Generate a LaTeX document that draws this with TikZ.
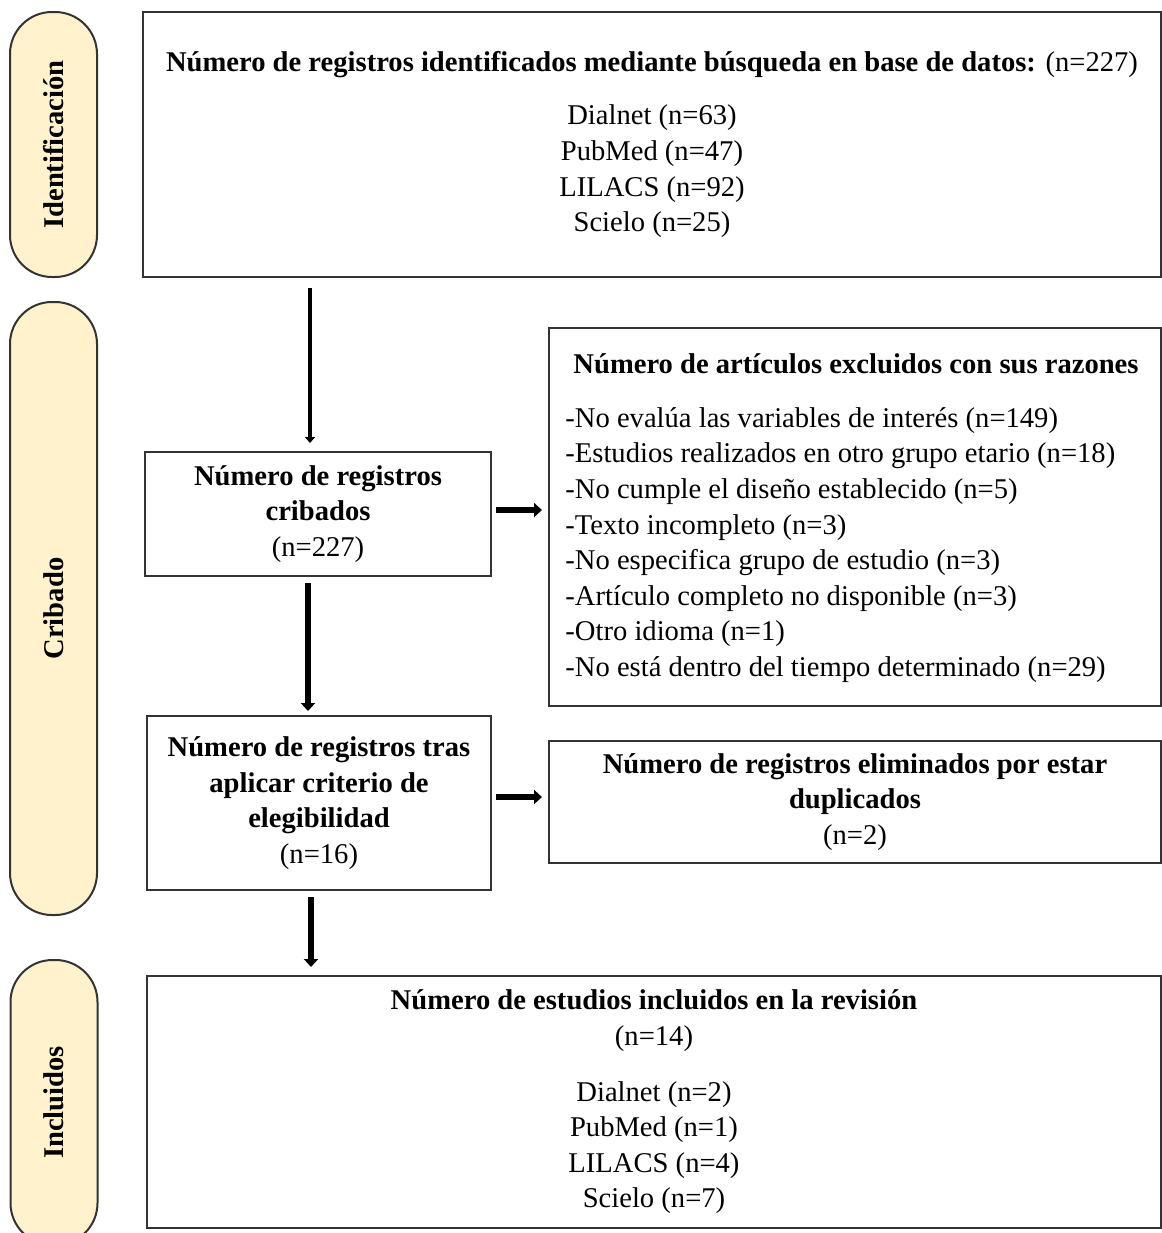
\documentclass[tikz,border=0pt]{standalone}
\usepackage{fontspec}
\setmainfont{Liberation Serif}
\usepackage{tikz}
\usetikzlibrary{positioning,calc,arrows.meta}
\definecolor{pillfill}{HTML}{FFF2CC}
\definecolor{edge}{HTML}{333333}

\begin{document}
\begin{tikzpicture}[x=0.5pt, y=-0.5pt,
    every node/.style={font=\fontsize{14.3}{17.8}\selectfont},
    box/.style={draw=edge, line width=1pt, rectangle, align=center, inner sep=0pt},
    pill/.style={draw=edge, line width=1pt, fill=pillfill, rounded corners=21pt, rotate=90,
        minimum height=43.5pt, inner sep=0pt, font=\fontsize{14.3}{17.8}\selectfont\bfseries},
    thinarrow/.style={-{Triangle[length=3pt,width=5pt]}, line width=2.2pt},
    thickarrow/.style={-{Triangle[length=4pt,width=7pt]}, line width=3.2pt}]
    \clip (0,0) rectangle (1162,1233);

    % phases
    \node[pill, minimum width=132.5pt] (phase1) at (53.5,144.5) {Identificación};
    \node[pill, minimum width=306.5pt] (phase2) at (53.5,608.5) {Cribado};
    \node[pill, minimum width=142.5pt] (phase3) at (54,1102.5) {Incluidos};

    % boxes
    \node[box, minimum width=509pt, minimum height=132.5pt] (ident) at (652,144.5)
        {\textbf{Número de registros identificados mediante búsqueda en base de datos:} (n=227)\\[9pt]
         Dialnet (n=63)\\ PubMed (n=47)\\ LILACS (n=92)\\ Scielo (n=25)};
    \node[box, minimum width=173pt, minimum height=62pt] (cribados) at (318,514)
        {\textbf{Número de registros}\\ \textbf{cribados}\\ (n=227)};
    \node[box, minimum width=306pt, minimum height=189pt] (excl) at (855,517) {};
    \node (excltitle) at (856,364) {\textbf{Número de artículos excluidos con sus razones}};
    \node[align=left, inner sep=0pt, anchor=west] (excllist) at (565,545)
        {-No evalúa las variables de interés (n=149)\\
         -Estudios realizados en otro grupo etario (n=18)\\
         -No cumple el diseño establecido (n=5)\\
         -Texto incompleto (n=3)\\
         -No especifica grupo de estudio (n=3)\\
         -Artículo completo no disponible (n=3)\\
         -Otro idioma (n=1)\\
         -No está dentro del tiempo determinado (n=29)};
    \node[box, minimum width=172pt, minimum height=87pt] (elegib) at (319,803)
        {\textbf{Número de registros tras}\\ \textbf{aplicar criterio de}\\ \textbf{elegibilidad}\\ (n=16)};
    \node[box, minimum width=306pt, minimum height=61pt] (dupl) at (855,802)
        {\textbf{Número de registros eliminados por estar}\\ \textbf{duplicados}\\ (n=2)};
    \node[box, minimum width=507pt, minimum height=126pt] (incl) at (654,1102)
        {\textbf{Número de estudios incluidos en la revisión}\\ (n=14)\\[10pt]
         Dialnet (n=2)\\ PubMed (n=1)\\ LILACS (n=4)\\ Scielo (n=7)};

    % arrows
    \draw[thinarrow, shorten <=5pt, shorten >=4pt]
        ([xshift=-4pt]cribados.north |- ident.south) -- ([xshift=-4pt]cribados.north);
    \draw[thickarrow, shorten <=3pt, shorten >=2pt]
        ([xshift=-5pt]cribados.south) -- ([xshift=-5pt]cribados.south |- elegib.north);
    \draw[thickarrow, shorten <=3pt, shorten >=4pt]
        ([xshift=-4pt]elegib.south) -- ([xshift=-4pt]elegib.south |- incl.north);
    \draw[thickarrow, shorten <=2pt, shorten >=3pt]
        ([yshift=2pt]cribados.east) -- ([yshift=2pt]cribados.east -| excl.west);
    \draw[thickarrow, shorten <=2pt, shorten >=3pt]
        ([yshift=3pt]elegib.east) -- ([yshift=3pt]elegib.east -| dupl.west);
\end{tikzpicture}
\end{document}
